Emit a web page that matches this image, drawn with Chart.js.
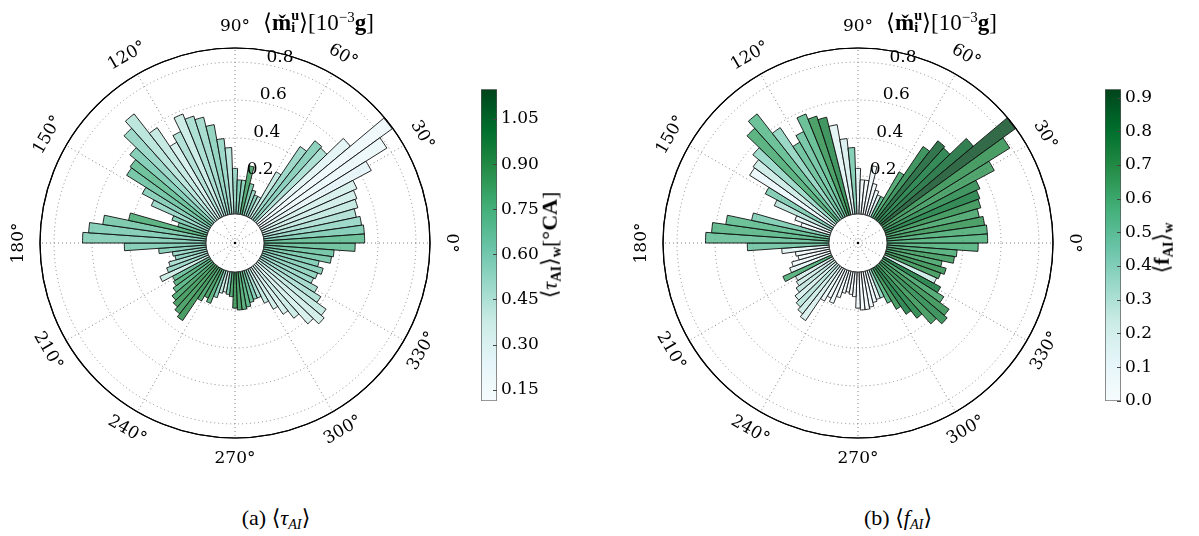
<!DOCTYPE html>
<html>
<head>
<meta charset="utf-8">
<script src="https://cdn.jsdelivr.net/npm/chart.js@4.4.1/dist/chart.umd.min.js"></script>
<style>
  html, body { margin: 0; padding: 0; background: #fff; }
  #page { position: relative; width: 1199px; height: 536px; overflow: hidden; color: #000;
          font-family: 'Liberation Serif', 'DejaVu Serif', serif; }
  canvas { position: absolute; }
  .txt { position: absolute; white-space: nowrap; line-height: 1; }
  .rtitle { font-size: 23px; }
  .ss { display: inline-block; vertical-align: -2px; font-size: 0.62em; line-height: 0.85; text-align: left; }
  .ss b { display: block; }
  sup { font-size: 0.65em; vertical-align: 0.55em; }
  sub { font-size: 0.65em; vertical-align: -0.3em; }
  .cap { font-size: 22px; transform: translateX(-50%); }
  .cbl { font-size: 22px; transform: translate(-50%, -50%) rotate(-90deg); }
</style>
</head>
<body>
<div id="page">
  <canvas id="polarA" width="470" height="470" style="left:0px;top:8px"></canvas>
  <canvas id="cbarA" width="90" height="340" style="left:470px;top:75px"></canvas>
  <canvas id="polarB" width="470" height="470" style="left:623px;top:8px"></canvas>
  <canvas id="cbarB" width="90" height="340" style="left:1094px;top:75px"></canvas>

  <div class="txt rtitle" style="left:263px;top:9px">⟨<b>m̌</b><span class="ss"><b>u</b><b>i</b></span>⟩[10<sup>−3</sup><b>g</b>]</div>
  <div class="txt rtitle" style="left:886px;top:9px">⟨<b>m̌</b><span class="ss"><b>u</b><b>i</b></span>⟩[10<sup>−3</sup><b>g</b>]</div>

  <div class="txt cbl" style="left:551px;top:245px">⟨<i>τ</i><sub><b>AI</b></sub>⟩<sub><b>w</b></sub>[<b>°CA</b>]</div>
  <div class="txt cbl" style="left:1163px;top:248px">⟨<b>f</b><sub><b>AI</b></sub>⟩<sub><b>w</b></sub></div>

  <div class="txt cap" style="left:276px;top:507px">(a) ⟨<i>τ</i><sub><i>AI</i></sub>⟩</div>
  <div class="txt cap" style="left:898px;top:507px">(b) ⟨<i>f</i><sub><i>AI</i></sub>⟩</div>
</div>
<script>
// bins of 4 deg, counter-clockwise from 0 deg (east)
const binAngles = [0, 4, 8, 12, 16, 20, 24, 28, 32, 36, 40, 44, 48, 52, 56, 60, 64, 68, 72, 76,
    80, 84, 88, 92, 96, 100, 104, 108, 112, 116, 120, 124, 128, 132, 136, 140, 144, 148, 152, 156,
    160, 164, 168, 172, 176, 180, 184, 188, 192, 196, 200, 204, 208, 212, 216, 220, 224, 228, 232, 236,
    240, 244, 248, 252, 256, 260, 264, 268, 272, 276, 280, 284, 288, 292, 296, 300, 304, 308, 312, 316,
    320, 324, 328, 332, 336, 340, 344, 348, 352, 356];

// <m_i^u> [1e-3 g], radial length of each bin (same in both panels)
const massValues = [
    0.53, 0.53, 0.52, 0.50, 0.52, 0.53, 0.55, 0.66, 0.79, 0.87,
    0.64, 0.52, 0.53, 0.46, 0.28, 0.12, 0.12, 0.14, 0.17, 0.26,
    0.18, 0.18, 0.24, 0.35, 0.40, 0.48, 0.53, 0.55, 0.58, 0.50,
    0.46, 0.58, 0.71, 0.66, 0.57, 0.53, 0.52, 0.40, 0.33, 0.20,
    0.16, 0.42, 0.55, 0.62, 0.65, 0.43, 0.25, 0.18, 0.17, 0.21,
    0.23, 0.28, 0.22, 0.23, 0.25, 0.28, 0.30, 0.32, 0.34, 0.20,
    0.17, 0.19, 0.15, 0.12, 0.11, 0.12, 0.13, 0.19, 0.20, 0.20,
    0.19, 0.17, 0.16, 0.16, 0.20, 0.25, 0.30, 0.35, 0.42, 0.46,
    0.44, 0.38, 0.34, 0.30, 0.31, 0.33, 0.30, 0.36, 0.37, 0.48];

// <tau_AI>_w [deg CA], colour of panel (a)
const tauValues = [
    0.72, 0.62, 0.55, 0.48, 0.42, 0.38, 0.35, 0.25, 0.22, 0.20,
    0.28, 0.50, 0.60, 0.55, 0.42, 0.45, 0.60, 0.55, 0.65, 0.85,
    0.60, 0.62, 0.55, 0.45, 0.55, 0.58, 0.52, 0.50, 0.40, 0.48,
    0.35, 0.42, 0.45, 0.55, 0.62, 0.72, 0.68, 0.60, 0.55, 0.62,
    0.70, 0.80, 0.65, 0.62, 0.60, 0.62, 0.60, 0.55, 0.58, 0.50,
    0.55, 0.40, 0.70, 0.80, 0.78, 0.85, 0.90, 0.88, 0.92, 0.85,
    0.88, 0.80, 0.60, 0.42, 0.38, 0.62, 0.85, 0.90, 0.88, 0.82,
    0.78, 0.72, 0.62, 0.50, 0.42, 0.38, 0.35, 0.40, 0.35, 0.38,
    0.42, 0.48, 0.52, 0.55, 0.58, 0.60, 0.62, 0.65, 0.68, 0.70];

// <f_AI>_w, colour of panel (b)
const fValues = [
    0.60, 0.62, 0.70, 0.65, 0.72, 0.80, 0.75, 0.68, 0.72, 0.92,
    0.85, 0.80, 0.88, 0.75, 0.65, 0.55, 0.20, 0.10, 0.05, 0.06,
    0.04, 0.08, 0.15, 0.45, 0.20, 0.15, 0.75, 0.70, 0.55, 0.50,
    0.52, 0.40, 0.55, 0.62, 0.38, 0.25, 0.10, 0.45, 0.30, 0.12,
    0.05, 0.45, 0.55, 0.58, 0.52, 0.50, 0.15, 0.05, 0.04, 0.06,
    0.12, 0.62, 0.20, 0.25, 0.28, 0.22, 0.30, 0.25, 0.20, 0.12,
    0.08, 0.05, 0.04, 0.06, 0.03, 0.02, 0.03, 0.04, 0.02, 0.03,
    0.05, 0.08, 0.15, 0.40, 0.60, 0.72, 0.80, 0.78, 0.70, 0.75,
    0.72, 0.65, 0.80, 0.25, 0.70, 0.72, 0.65, 0.68, 0.62, 0.60];

// radial axis
const rMin = -0.153, rMax = 0.874;
const radialTicks = [0.2, 0.4, 0.6, 0.8];
const angleTicks = [0, 30, 60, 90, 120, 150, 180, 210, 240, 270, 300, 330];

// colour bars
const tauMin = 0.113, tauMax = 1.149;
const tauTicks = [0.15, 0.30, 0.45, 0.60, 0.75, 0.90, 1.05];
const fMin = 0.0, fMax = 0.925;
const fTicks = [0.0, 0.1, 0.2, 0.3, 0.4, 0.5, 0.6, 0.7, 0.8, 0.9];

// matplotlib BuGn
const BUGN = [[247,252,253],[229,245,249],[204,236,230],[153,216,201],[102,194,164],
              [65,174,118],[35,139,69],[0,109,44],[0,68,27]];
function bugn(t, alpha) {
    t = Math.min(1, Math.max(0, t)) * (BUGN.length - 1);
    const i = Math.min(Math.floor(t), BUGN.length - 2), f = t - i;
    const c = BUGN[i].map((v, j) => Math.round(v + (BUGN[i + 1][j] - v) * f));
    return `rgba(${c[0]},${c[1]},${c[2]},${alpha})`;
}

const tickFont = '17px "DejaVu Serif"';

const polarDecor = {
    id: 'polarDecor',
    beforeDatasetsDraw(chart) {
        const s = chart.scales.r, c = chart.ctx;
        c.save();
        c.strokeStyle = '#808080'; c.lineWidth = 1; c.setLineDash([1, 3]);
        angleTicks.forEach(a => {
            const t = a * Math.PI / 180;
            c.beginPath();
            c.moveTo(s.xCenter, s.yCenter);
            c.lineTo(s.xCenter + s.drawingArea * Math.cos(t), s.yCenter - s.drawingArea * Math.sin(t));
            c.stroke();
        });
        c.restore();
    },
    afterDatasetsDraw(chart) {
        const s = chart.scales.r, c = chart.ctx;
        const xc = s.xCenter, yc = s.yCenter;
        const r0 = s.getDistanceFromCenterForValue(0);
        c.save();
        // hole left by the bar offset
        c.beginPath(); c.arc(xc, yc, r0, 0, 2 * Math.PI);
        c.fillStyle = '#fff'; c.fill();
        c.strokeStyle = '#222'; c.lineWidth = 0.9; c.stroke();
        c.strokeStyle = '#808080'; c.lineWidth = 1; c.setLineDash([1, 3]);
        angleTicks.forEach(a => {
            const t = a * Math.PI / 180;
            c.beginPath(); c.moveTo(xc, yc);
            c.lineTo(xc + (r0 - 1) * Math.cos(t), yc - (r0 - 1) * Math.sin(t));
            c.stroke();
        });
        c.setLineDash([]);
        c.fillStyle = '#000';
        c.beginPath(); c.arc(xc, yc, 1.3, 0, 2 * Math.PI); c.fill();
        // outer frame
        c.beginPath(); c.arc(xc, yc, s.drawingArea, 0, 2 * Math.PI);
        c.strokeStyle = '#000'; c.lineWidth = 1.2; c.stroke();
        // radial tick labels
        c.font = tickFont; c.textAlign = 'left'; c.textBaseline = 'alphabetic';
        const la = 80 * Math.PI / 180;
        radialTicks.forEach(v => {
            const r = s.getDistanceFromCenterForValue(v);
            c.fillText(v.toFixed(1), xc + r * Math.cos(la), yc - r * Math.sin(la) - 3);
        });
        // angular labels
        c.textAlign = 'center'; c.textBaseline = 'middle';
        const R = s.drawingArea + 21;
        angleTicks.forEach(a => {
            const t = a * Math.PI / 180;
            const rot = (a > 180) ? 270 - a : 90 - a;
            c.save();
            c.translate(xc + R * Math.cos(t), yc - R * Math.sin(t));
            c.rotate(rot * Math.PI / 180);
            c.fillText(a + '°', 0, 0);
            c.restore();
        });
        c.restore();
    }
};

function drawRose(id, colourValues, vmin, vmax) {
    const last = radialTicks.length;
    const colours = colourValues.map(v => bugn((v - vmin) / (vmax - vmin), 0.8));
    // chart.js goes clockwise, bins are counter-clockwise
    return new Chart(document.getElementById(id), {
        type: 'polarArea',
        data: {
            labels: binAngles.slice().reverse(),
            datasets: [{
                data: massValues.slice().reverse(),
                backgroundColor: colours.slice().reverse(),
                borderColor: '#111',
                borderWidth: 0.9
            }]
        },
        options: {
            responsive: false,
            animation: false,
            layout: { padding: 40 },
            plugins: { legend: { display: false }, tooltip: { enabled: false } },
            scales: {
                r: {
                    min: rMin,
                    max: rMax,
                    startAngle: 90,
                    afterBuildTicks: (scale) => {
                        scale.ticks = radialTicks.concat([rMax]).map(v => ({ value: v }));
                    },
                    ticks: { display: false },
                    angleLines: { display: false },
                    pointLabels: { display: false },
                    grid: {
                        circular: true,
                        color: (ctx) => ctx.index === last ? '#000' : '#8a8a8a',
                        lineWidth: (ctx) => ctx.index === last ? 1.2 : 1
                    },
                    border: { dash: (ctx) => ctx.index === last ? [] : [1, 3] }
                }
            }
        },
        plugins: [polarDecor]
    });
}

// small inward tick marks on the right edge of the colour bar
const cbarTicks = {
    id: 'cbarTicks',
    afterDatasetsDraw(chart) {
        const y = chart.scales.y, a = chart.chartArea, c = chart.ctx;
        c.save();
        c.strokeStyle = '#444'; c.lineWidth = 1;
        y.ticks.forEach(t => {
            const py = Math.round(y.getPixelForValue(t.value)) + 0.5;
            c.beginPath(); c.moveTo(a.right - 4, py); c.lineTo(a.right, py); c.stroke();
        });
        c.restore();
    }
};

function drawColorbar(id, vmin, vmax, ticks, digits) {
    return new Chart(document.getElementById(id), {
        type: 'bar',
        data: {
            labels: [''],
            datasets: [{
                data: [[vmin, vmax]],
                backgroundColor: (ctx) => {
                    const area = ctx.chart.chartArea;
                    if (!area) return '#ccc';
                    const g = ctx.chart.ctx.createLinearGradient(0, area.bottom, 0, area.top);
                    BUGN.forEach((c, i) => g.addColorStop(i / (BUGN.length - 1), `rgb(${c[0]},${c[1]},${c[2]})`));
                    return g;
                },
                borderColor: '#555',
                borderWidth: 1,
                borderSkipped: false,
                barPercentage: 1,
                categoryPercentage: 1
            }]
        },
        options: {
            responsive: false,
            animation: false,
            layout: { padding: { left: 11, right: 3, top: 8, bottom: 12 } },
            plugins: { legend: { display: false }, tooltip: { enabled: false } },
            scales: {
                x: { display: false },
                y: {
                    position: 'right',
                    min: vmin,
                    max: vmax,
                    afterBuildTicks: (scale) => { scale.ticks = ticks.map(v => ({ value: v })); },
                    afterFit: (scale) => { scale.width = 60; },
                    grid: { display: false, drawTicks: false },
                    border: { display: false },
                    ticks: {
                        padding: 4,
                        color: '#000',
                        autoSkip: false,
                        font: { family: 'DejaVu Serif', size: 17 },
                        callback: (v) => Number(v).toFixed(digits)
                    }
                }
            }
        },
        plugins: [cbarTicks]
    });
}

drawRose('polarA', tauValues, tauMin, tauMax);
drawColorbar('cbarA', tauMin, tauMax, tauTicks, 2);
drawRose('polarB', fValues, fMin, fMax);
drawColorbar('cbarB', fMin, fMax, fTicks, 1);
</script>
</body>
</html>
